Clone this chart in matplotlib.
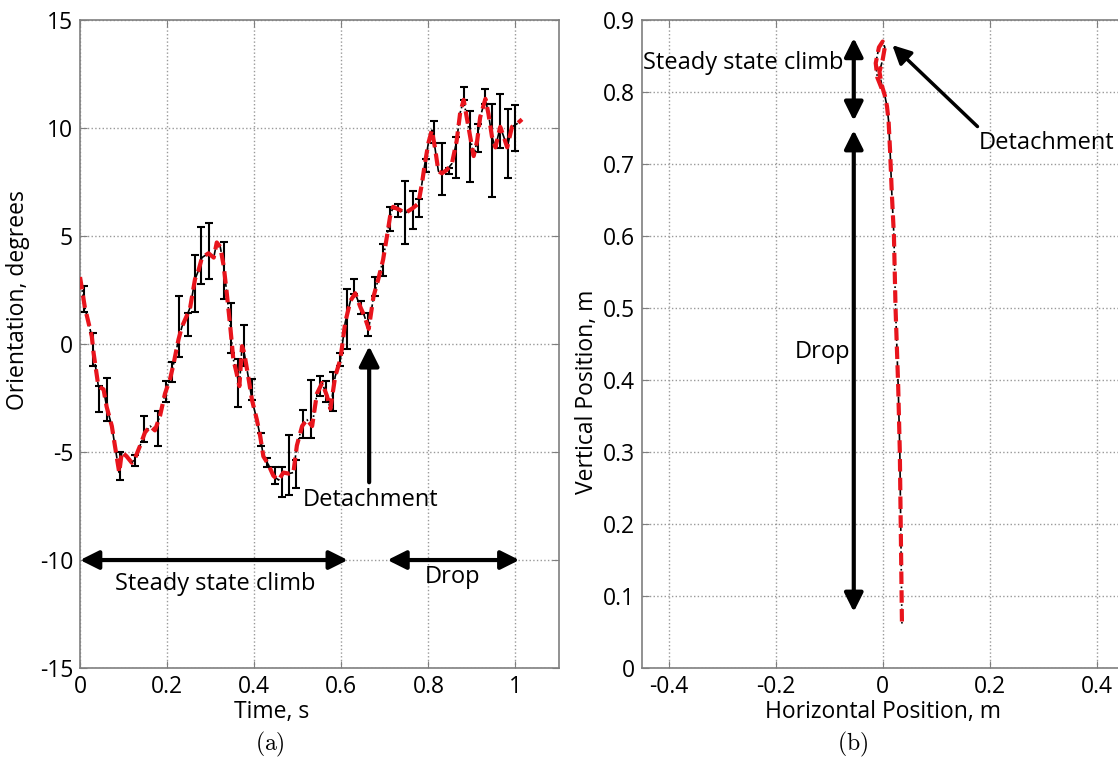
import matplotlib
matplotlib.use('Agg')
import matplotlib.pyplot as plt
from matplotlib.ticker import FormatStrFormatter

plt.rcParams['font.family'] = ['Open Sans', 'DejaVu Sans']
plt.rcParams['axes.unicode_minus'] = False
plt.rcParams['mathtext.fontset'] = 'cm'

# (a) orientation vs time
time = [0, 0.011, 0.027, 0.031, 0.042, 0.054, 0.061, 0.073, 0.080, 0.090,
        0.096, 0.107, 0.119, 0.126, 0.138, 0.149, 0.161, 0.172, 0.184, 0.195,
        0.207, 0.215, 0.226, 0.234, 0.245, 0.253, 0.264, 0.272, 0.280, 0.295,
        0.307, 0.314, 0.322, 0.330, 0.337, 0.345, 0.352, 0.359, 0.366, 0.372,
        0.377, 0.387, 0.395, 0.406, 0.414, 0.421, 0.433, 0.444, 0.456, 0.467,
        0.479, 0.490, 0.498, 0.510, 0.521, 0.533, 0.544, 0.556, 0.567, 0.575,
        0.586, 0.598, 0.609, 0.621, 0.632, 0.644, 0.653, 0.663, 0.674, 0.685,
        0.696, 0.705, 0.712, 0.719, 0.735, 0.746, 0.765, 0.777, 0.785, 0.792,
        0.800, 0.808, 0.815, 0.823, 0.831, 0.842, 0.854, 0.865, 0.873, 0.881,
        0.888, 0.896, 0.904, 0.912, 0.919, 0.931, 0.938, 0.946, 0.954, 0.965,
        0.973, 0.981, 0.992, 1.004, 1.015]
orient = [3.1, 1.7, 0.35, -0.4, -1.95, -2.1, -2.9, -3.8, -4.7, -5.95,
          -5.0, -5.2, -5.5, -5.3, -4.7, -4.1, -3.8, -4.0, -3.3, -2.3,
          -1.6, -0.9, 0.2, 0.8, 1.3, 1.7, 3.0, 3.4, 4.0, 4.2,
          4.0, 4.7, 4.5, 3.6, 2.35, 0.8, -0.7, -1.3, -1.95, -0.1,
          -0.4, -1.6, -2.6, -3.5, -4.3, -5.2, -5.6, -6.1, -6.3, -5.95,
          -6.0, -5.95, -4.7, -3.8, -3.5, -3.8, -2.3, -1.8, -2.4, -3.0,
          -1.5, -0.7, 1.0, 2.0, 2.35, 1.7, 1.3, 0.7, 2.2, 3.0,
          3.9, 5.0, 5.9, 6.35, 6.2, 6.05, 6.3, 6.5, 7.4, 8.35,
          9.3, 9.9, 9.1, 8.0, 7.9, 8.05, 8.35, 9.4, 10.7, 11.3,
          10.5, 9.6, 8.7, 9.4, 10.5, 11.35, 10.65, 9.6, 9.1, 10.05,
          9.6, 9.1, 10.05, 10.2, 10.4]

err_t = [0.009, 0.029, 0.044, 0.061, 0.092, 0.126, 0.146, 0.178, 0.198, 0.211,
         0.228, 0.247, 0.264, 0.277, 0.296, 0.330, 0.346, 0.362, 0.377, 0.396,
         0.415, 0.429, 0.447, 0.464, 0.481, 0.497, 0.511, 0.530, 0.550, 0.565,
         0.580, 0.598, 0.613, 0.629, 0.645, 0.662, 0.677, 0.696, 0.712, 0.731,
         0.746, 0.764, 0.779, 0.794, 0.812, 0.831, 0.848, 0.863, 0.881, 0.896,
         0.915, 0.929, 0.946, 0.965, 0.982, 1.000]
err_mid = [2.1, -0.25, -2.55, -2.57, -5.65, -5.4, -3.95, -3.9, -2.2, -1.3,
           0.8, 0.9, 2.8, 4.1, 4.3, 3.4, 0.75, -1.8, -0.05, -2.1,
           -4.4, -5.5, -6.1, -6.4, -5.6, -6.0, -3.7, -3.0, -1.95, -2.2,
           -2.2, -0.7, 1.15, 2.65, 1.7, 0.9, 2.65, 3.9, 5.8, 6.2,
           6.1, 6.2, 6.3, 8.25, 9.8, 8.1, 8.0, 8.65, 11.6, 9.15,
           9.55, 11.45, 8.95, 10.3, 9.3, 10.0]
err_half = [0.6, 0.75, 0.6, 1.0, 0.65, 0.25, 0.6, 0.8, 0.5, 0.45,
            1.4, 0.55, 1.3, 1.3, 1.3, 1.3, 1.15, 1.1, 0.95, 0.5,
            0.3, 0.2, 0.4, 0.7, 1.4, 0.65, 0.65, 1.35, 0.45, 0.5,
            0.9, 0.3, 1.4, 0.35, 0.3, 0.55, 0.45, 0.75, 0.55, 0.3,
            1.45, 0.9, 0.4, 0.3, 0.5, 1.2, 0.15, 0.95, 0.3, 1.65,
            0.65, 0.35, 2.15, 1.25, 1.6, 1.05]

# (b) trajectory
pos_x = [-0.002, -0.01, -0.013, -0.007, 0.0, 0.004, 0.0, -0.006, -0.002, 0.004,
         0.008, 0.011, 0.014, 0.017, 0.021, 0.024, 0.029, 0.032, 0.034, 0.036]
pos_y = [0.805, 0.82, 0.84, 0.862, 0.87, 0.862, 0.845, 0.828, 0.81, 0.795,
         0.78, 0.76, 0.715, 0.66, 0.6, 0.5, 0.39, 0.3, 0.18, 0.06]

fig = plt.figure(figsize=(11.18, 7.67), dpi=100)
ax1 = fig.add_axes([0.0716, 0.129, 0.4284, 0.845])
ax2 = fig.add_axes([0.574, 0.129, 0.455, 0.845])

spine_col = '#7f7f7f'
for ax in (ax1, ax2):
    for s in ax.spines.values():
        s.set_color(spine_col)
        s.set_linewidth(1.2)
    ax.tick_params(direction='in', top=True, right=True, length=5,
                   color=spine_col, labelsize=16.5, pad=5)
    ax.grid(True, linestyle=':', color='#999999', linewidth=1.0)
    ax.set_axisbelow(True)

# left panel
ax1.errorbar(err_t, err_mid, yerr=err_half, fmt='none', ecolor='black',
             elinewidth=1.5, capsize=3, capthick=1.5, zorder=2)
ax1.plot(time, orient, color='black', linestyle='-.', linewidth=1.2, zorder=3)
ax1.plot(time, orient, color='#e8141c', linestyle='--', linewidth=3,
         dashes=(3, 1.5), zorder=4)
ax1.set_xlim(0, 1.1)
ax1.set_ylim(-15, 15)
ax1.set_xticks([0, 0.2, 0.4, 0.6, 0.8, 1.0])
ax1.set_yticks([-15, -10, -5, 0, 5, 10, 15])
ax1.xaxis.set_major_formatter(FormatStrFormatter('%g'))
ax1.set_xlabel('Time, s', fontsize=16.5)
ax1.set_ylabel('Orientation, degrees', fontsize=16.5)
ax1.xaxis.set_label_coords(0.399, -0.05)
ax1.yaxis.set_label_coords(-0.104, 0.568)

arr2 = dict(arrowstyle='<|-|>', lw=3, color='black', mutation_scale=28,
            shrinkA=0, shrinkB=0)
arr1 = dict(arrowstyle='-|>', lw=3, color='black', mutation_scale=30,
            shrinkA=0, shrinkB=0)
ax1.annotate('', xy=(0.615, -10), xytext=(0.0, -10), arrowprops=arr2)
ax1.text(0.31, -11.1, 'Steady state climb', fontsize=17, ha='center', va='center')
ax1.annotate('', xy=(1.009, -10), xytext=(0.706, -10), arrowprops=arr2)
ax1.text(0.855, -10.8, 'Drop', fontsize=17, ha='center', va='center')
ax1.annotate('', xy=(0.664, -0.1), xytext=(0.664, -6.4), arrowprops=arr1)
ax1.text(0.667, -7.2, 'Detachment', fontsize=17, ha='center', va='center')

# right panel
ax2.plot(pos_x, pos_y, color='black', linestyle='-.', linewidth=1.2, zorder=3)
ax2.plot(pos_x, pos_y, color='#e8141c', linestyle='--', linewidth=3,
         dashes=(3, 1.5), zorder=4)
ax2.set_xlim(-0.45, 0.5)
ax2.set_ylim(0, 0.9)
ax2.set_xticks([-0.4, -0.2, 0, 0.2, 0.4])
ax2.set_yticks([0, 0.1, 0.2, 0.3, 0.4, 0.5, 0.6, 0.7, 0.8, 0.9])
ax2.xaxis.set_major_formatter(FormatStrFormatter('%g'))
ax2.yaxis.set_major_formatter(FormatStrFormatter('%g'))
ax2.set_xlabel('Horizontal Position, m', fontsize=16.5)
ax2.set_ylabel('Vertical Position, m', fontsize=16.5)
ax2.xaxis.set_label_coords(0.474, -0.05)
ax2.yaxis.set_label_coords(-0.084, 0.426)

ax2.annotate('', xy=(-0.054, 0.76), xytext=(-0.054, 0.875), arrowprops=arr2)
ax2.text(-0.26, 0.84, 'Steady state climb', fontsize=17, ha='center', va='center')
ax2.annotate('', xy=(-0.054, 0.078), xytext=(-0.054, 0.747), arrowprops=arr2)
ax2.text(-0.112, 0.439, 'Drop', fontsize=17, ha='center', va='center')
ax2.annotate('', xy=(0.018, 0.865), xytext=(0.177, 0.752),
             arrowprops=dict(arrowstyle='-|>', lw=2.5, color='black',
                             mutation_scale=28, shrinkA=0, shrinkB=0))
ax2.text(0.179, 0.729, 'Detachment', fontsize=17, ha='left', va='center')

fig.text(270 / 1118, 1 - 744 / 767, r'$\mathrm{(a)}$', fontsize=17,
         ha='center', va='center')
fig.text(853 / 1118, 1 - 744 / 767, r'$\mathrm{(b)}$', fontsize=17,
         ha='center', va='center')

fig.savefig('out.png', dpi=100)
